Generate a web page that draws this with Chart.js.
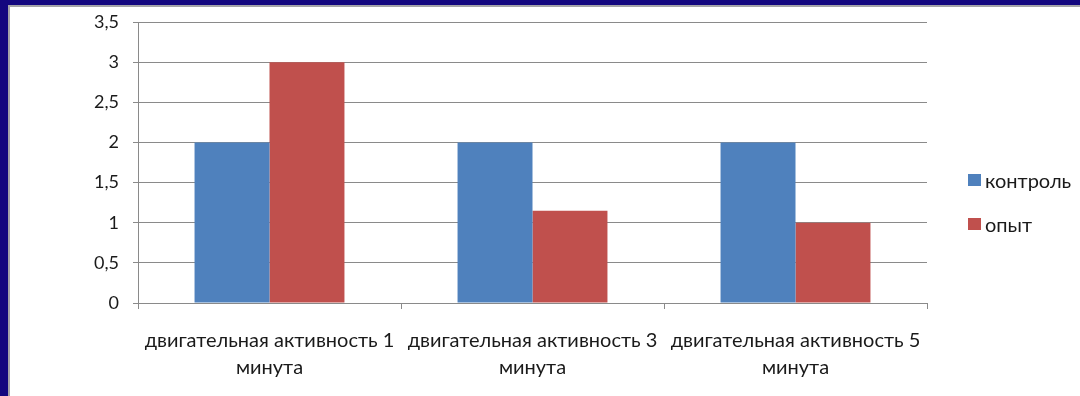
<!DOCTYPE html>
<html>
<head>
<meta charset="utf-8">
<script src="https://cdn.jsdelivr.net/npm/chart.js@4/dist/chart.umd.min.js"></script>
<style>
  html, body { margin: 0; padding: 0; background: #ffffff; }
  #wrap { position: relative; width: 1080px; height: 396px; overflow: hidden; background: #ffffff; }
  #chart { position: absolute; left: 0; top: 0; }
  .frame-top { position: absolute; left: 0; top: 0; width: 1080px; height: 5px; background: #13077f; }
  .frame-top-line { position: absolute; left: 8px; top: 5px; width: 1072px; height: 2px; background: #a4a4a8; }
  .frame-left { position: absolute; left: 0; top: 0; width: 8px; height: 396px; background: #13077f; }
  .frame-left-line { position: absolute; left: 8px; top: 5px; width: 2px; height: 391px; background: #a4a4a8; }
  #legend { position: absolute; left: 968px; top: 169px; font-family: Lato, "Open Sans", sans-serif; font-size: 20px; color: #1a1a1a; }
  #legend .item { display: flex; align-items: center; height: 22px; margin-bottom: 22px; }
  #legend .swatch { width: 13px; height: 12px; margin-right: 4px; }
</style>
</head>
<body>
<div id="wrap">
  <canvas id="chart" width="1080" height="396"></canvas>
  <div class="frame-top"></div>
  <div class="frame-left"></div>
  <div class="frame-top-line"></div>
  <div class="frame-left-line"></div>
  <div id="legend"></div>
</div>
<script>
// Categories (two-line labels) and series values
const categories = [
  ['двигательная активность 1', 'минута'],
  ['двигательная активность 3', 'минута'],
  ['двигательная активность 5', 'минута']
];
const seriesNames = ['контроль', 'опыт'];
const controlValues = [2, 2, 2];
const experimentValues = [3, 1.15, 1];
const yTickLabels = ['0', '0,5', '1', '1,5', '2', '2,5', '3', '3,5'];

const seriesColors = ['#4f81bd', '#c0504d'];
const gridColor = '#8a8a8a';
const textColor = '#1a1a1a';
const fontFamily = 'Lato, "Open Sans", sans-serif';

const chart = new Chart(document.getElementById('chart'), {
  type: 'bar',
  data: {
    labels: categories,
    datasets: [
      { label: seriesNames[0], data: controlValues, backgroundColor: seriesColors[0] },
      { label: seriesNames[1], data: experimentValues, backgroundColor: seriesColors[1] }
    ]
  },
  options: {
    responsive: false,
    animation: false,
    layout: { padding: { left: 0, top: 22, right: 153, bottom: 0 } },
    datasets: { bar: { categoryPercentage: 0.57, barPercentage: 1.0, borderWidth: 0 } },
    plugins: {
      legend: { display: false },
      tooltip: { enabled: false }
    },
    scales: {
      x: {
        grid: { display: true, drawOnChartArea: false, drawTicks: true, tickLength: 6, color: gridColor, offset: true },
        border: { display: true, color: gridColor, width: 1 },
        ticks: {
          color: textColor,
          font: { family: fontFamily, size: 20, lineHeight: 1.35 },
          maxRotation: 0, minRotation: 0, autoSkip: false, padding: 18
        },
        afterFit(scale) { scale.height = 93; }
      },
      y: {
        min: 0, max: 3.5,
        grid: { color: gridColor, tickLength: 5, drawTicks: true },
        border: { display: true, color: gridColor, width: 1 },
        ticks: {
          stepSize: 0.5,
          color: textColor,
          padding: 14,
          font: { family: fontFamily, size: 18 },
          callback: (value, index) => yTickLabels[index]
        },
        afterFit(scale) {
          scale.width = 138;
          scale.paddingTop = 0;
          scale.paddingBottom = 0;
        }
      }
    }
  }
});

// HTML legend built from the chart's datasets
const legendEl = document.getElementById('legend');
chart.data.datasets.forEach(ds => {
  const item = document.createElement('div');
  item.className = 'item';
  const sw = document.createElement('span');
  sw.className = 'swatch';
  sw.style.background = ds.backgroundColor;
  const tx = document.createElement('span');
  tx.textContent = ds.label;
  item.appendChild(sw);
  item.appendChild(tx);
  legendEl.appendChild(item);
});
</script>
</body>
</html>
